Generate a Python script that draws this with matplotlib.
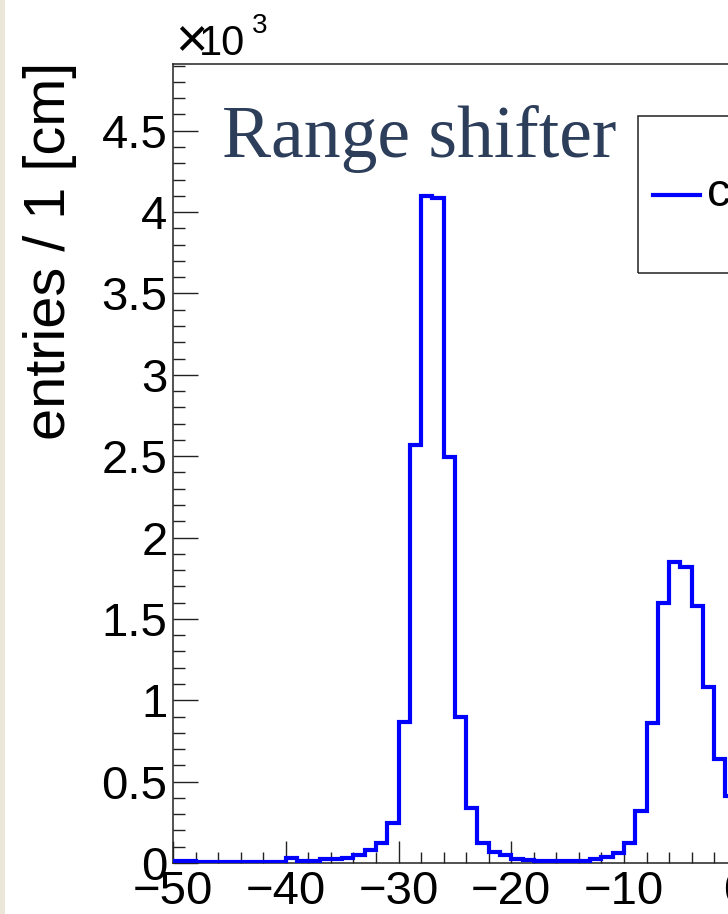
import numpy as np
import matplotlib
matplotlib.use("Agg")
import matplotlib.pyplot as plt
from matplotlib.ticker import MultipleLocator, FuncFormatter
from matplotlib.patches import Rectangle
from matplotlib.lines import Line2D

plt.rcParams['font.family'] = ['Liberation Sans', 'DejaVu Sans']

# ---- data ----
bin_edges = np.arange(-50, 1, 1)  # 1 cm bins from -50 to 0 (visible part)
entries = [14, 14, 8, 8, 8, 9, 9, 8, 8, 8,
           29, 12, 12, 25, 25, 33, 49, 80, 121, 245,
           867, 2570, 4098, 4086, 2493, 898, 336, 125, 69, 49,
           23, 18, 12, 12, 12, 12, 12, 23, 34, 60,
           121, 319, 863, 1595, 1850, 1822, 1580, 1080, 640, 410]
x_label = "entries / 1 [cm]"
annotation = "Range shifter"
legend_label = "counts"
x_range = (-50, 50)
y_range_k = (0, 4.91)

W, H = 728, 914
def fx(px):
    return px / W
def fy(py):
    return 1 - py / H

fig = plt.figure(figsize=(W / 100, H / 100), dpi=100)
fig.patch.set_facecolor('white')
# thin paper strip at the left edge
fig.add_artist(Rectangle((0, 0), fx(5), 1, transform=fig.transFigure,
                         facecolor='#ebe6d8', edgecolor='none', zorder=0))

left, right, top, bottom = 173, 173 + 1127.5, 64, 863
ax = fig.add_axes([fx(left), 1 - bottom / H, (right - left) / W, (bottom - top) / H])
ax.set_xlim(*x_range)
ax.set_ylim(*y_range_k)

vals_k = np.array(entries) / 1000.0
ax.stairs(vals_k, bin_edges, color='#0000ff', linewidth=3.0, baseline=None, zorder=3)

for s in ['left', 'bottom', 'top', 'right']:
    ax.spines[s].set_linewidth(1.1)
    ax.spines[s].set_color('#222222')

ax.xaxis.set_major_locator(MultipleLocator(10))
ax.xaxis.set_minor_locator(MultipleLocator(2))
ax.yaxis.set_major_locator(MultipleLocator(0.5))
ax.yaxis.set_minor_locator(MultipleLocator(0.1))
fmt = FuncFormatter(lambda v, p: f"{v:g}".replace('-', '\u2212'))
ax.xaxis.set_major_formatter(fmt)
ax.yaxis.set_major_formatter(fmt)
ax.tick_params(axis='x', which='major', direction='in', length=15.8, width=1.0,
               labelsize=34, pad=5, color='#222222')
ax.tick_params(axis='x', which='minor', direction='in', length=7.9, width=1.0, color='#222222')
ax.tick_params(axis='y', which='major', direction='in', length=18, width=1.0,
               labelsize=34, pad=4, color='#222222')
ax.tick_params(axis='y', which='minor', direction='in', length=8.6, width=1.0, color='#222222')

# y axis title (ROOT style, aligned to the top end)
fig.text(fx(50), fy(62), x_label, rotation=90, ha='center', va='top', fontsize=41.5)

# x10^3 exponent
fig.text(fx(175), fy(56), "\u00d7", ha='left', va='baseline', fontsize=40)
fig.text(fx(199), fy(55), "10", ha='left', va='baseline', fontsize=30)
fig.text(fx(252), fy(33), "3", ha='left', va='baseline', fontsize=20)

# annotation
fig.text(fx(222), fy(156.7), annotation, family='Liberation Serif', fontsize=53,
         color='#2c3e5a', ha='left', va='baseline')

# legend (box extends beyond the right edge)
fig.add_artist(Rectangle((fx(637.7), fy(273)), 0.5, (273 - 116) / H,
                         transform=fig.transFigure, fill=False, linewidth=1.1,
                         edgecolor='#222222', zorder=5))
fig.add_artist(Line2D([fx(653), fx(700)], [fy(195), fy(195)], transform=fig.transFigure,
                      color='#0000ff', linewidth=3.0, zorder=6))
fig.text(fx(707), fy(206.5), legend_label, ha='left', va='baseline', fontsize=34)

fig.savefig('out.png', dpi=100)
